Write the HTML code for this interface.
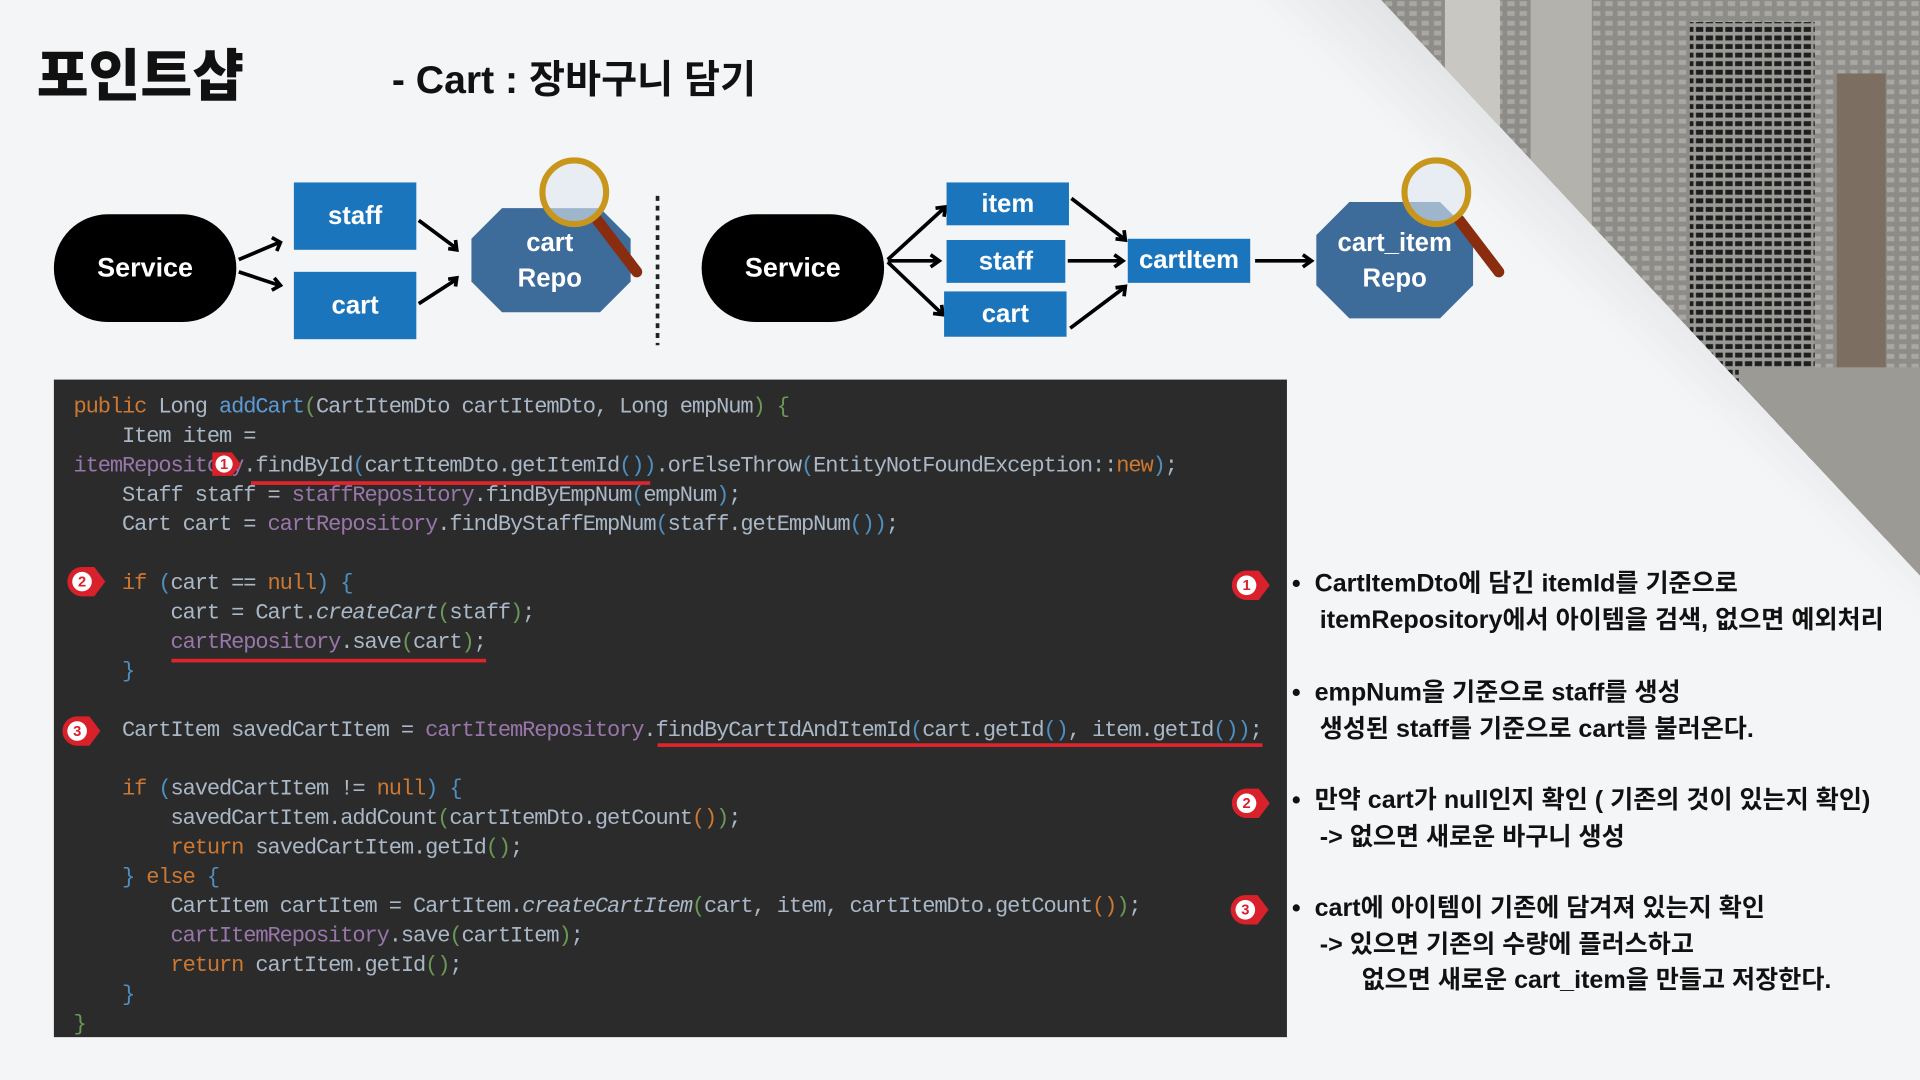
<!DOCTYPE html>
<html><head><meta charset="utf-8"><style>
html,body{margin:0;padding:0;width:1920px;height:1080px;overflow:hidden;background:#f3f5f7}
#s{position:absolute;left:0;top:0;width:1568px;height:882px;transform:scale(1.22449);transform-origin:0 0;font-family:"Liberation Sans","Noto Sans CJK KR",sans-serif}
.abs{position:absolute}
.code{position:absolute;left:44px;top:310px;width:1007px;height:537px;background:#2b2b2b}
.code pre{margin:0;position:absolute;left:16px;top:11px;font-family:"Liberation Mono",monospace;font-size:18px;line-height:24px;color:#a9b7c6;letter-spacing:-0.9px}
.k{color:#cc7832}.f{color:#9876aa}.m{color:#5b9bd5}.p{color:#4e8fbf}.g{color:#6a9955}.i{font-style:italic}
.rt{position:absolute;left:1055px;font-size:20.5px;font-weight:bold;color:#111;line-height:29.5px;white-space:pre}
.box{position:absolute;background:#1b75bc;color:#fff;font-weight:bold;font-size:21px;display:flex;align-items:center;justify-content:center}
.svc{position:absolute;background:#000;color:#fff;border-radius:45px;font-weight:bold;font-size:22px;display:flex;align-items:center;justify-content:center}
.ul{position:absolute;height:3px;background:#e0242c}
</style></head><body><div id="s">
<svg class="abs" style="left:0;top:0" width="1568" height="882">
<defs>
<linearGradient id="sh" x1="1020" y1="0" x2="1250" y2="-250" gradientUnits="userSpaceOnUse">
<stop offset="0" stop-color="#f3f5f7"/><stop offset="1" stop-color="#a4a6a5"/></linearGradient>
<pattern id="bld" width="10" height="8" patternUnits="userSpaceOnUse"><rect width="10" height="8" fill="#8d8c88"/><rect x="1" y="1" width="6" height="4" fill="#a9a8a3"/></pattern>
<pattern id="win" width="8" height="7" patternUnits="userSpaceOnUse"><rect width="8" height="7" fill="#9a9a96"/><rect x="1" y="1" width="6" height="4" fill="#1e1e1e"/></pattern>
<clipPath id="cp"><polygon points="1128,0 1568,0 1568,470"/></clipPath>
</defs>
<polygon points="1020,0 1568,0 1568,545" fill="url(#sh)"/>
<g clip-path="url(#cp)">
<rect x="1128" y="0" width="440" height="470" fill="url(#bld)"/>
<rect x="1180" y="0" width="45" height="130" fill="#c9c7c2"/>
<rect x="1250" y="0" width="50" height="200" fill="#b4b2ad"/>
<rect x="1380" y="18" width="102" height="400" fill="url(#win)"/>
<rect x="1500" y="60" width="40" height="400" fill="#7c6f62"/>
<rect x="1420" y="300" width="150" height="200" fill="#9b9a95"/>
</g>
<line x1="537" y1="160" x2="537" y2="282" stroke="#222" stroke-width="3" stroke-dasharray="4,4"/>
<g stroke="#000" stroke-width="3" fill="none">
<path d="M195 212 L228 198 M222 194 L229 198 L226 205"/><path d="M195 222 L228 233 M222 237 L229 233 L224 227"/>
<path d="M342 180 L373 203 M366 203 L373 204 L372 196"/><path d="M342 248 L373 228 M366 228 L373 227 L372 234"/>
<path d="M725 212 L771 170 M764 170 L772 169 L771 177"/><path d="M725 213 L766 213 M760 208 L767 213 L760 218"/><path d="M725 214 L769 256 M762 256 L770 257 L769 249"/>
<path d="M875 162 L918 195 M911 195 L919 196 L918 188"/><path d="M872 213 L916 213 M910 208 L917 213 L910 218"/><path d="M874 268 L918 235 M911 235 L919 234 L918 242"/>
<path d="M1025 213 L1070 213 M1064 208 L1071 213 L1064 218"/>
</g>
<polygon points="410,170 490,170 515,195 515,230 490,255 410,255 385,230 385,195" fill="#3d6b9a"/>
<polygon points="1102,165 1176,165 1203,192 1203,233 1176,260 1102,260 1075,233 1075,192" fill="#3d6b9a"/>
<g><line x1="488" y1="180" x2="520" y2="222" stroke="#8a2d0e" stroke-width="9" stroke-linecap="round"/><circle cx="469" cy="157" r="26" fill="#dfe8ee" fill-opacity="0.6" stroke="#c9961c" stroke-width="5"/></g>
<g><line x1="1192" y1="180" x2="1224" y2="222" stroke="#8a2d0e" stroke-width="9" stroke-linecap="round"/><circle cx="1173" cy="157" r="26" fill="#dfe8ee" fill-opacity="0.6" stroke="#c9961c" stroke-width="5"/></g>
<text x="449" y="205" fill="#fff" font-size="21" font-weight="bold" text-anchor="middle" font-family="Liberation Sans">cart</text>
<text x="449" y="234" fill="#fff" font-size="21" font-weight="bold" text-anchor="middle" font-family="Liberation Sans">Repo</text>
<text x="1139" y="205" fill="#fff" font-size="21" font-weight="bold" text-anchor="middle" font-family="Liberation Sans">cart_item</text>
<text x="1139" y="234" fill="#fff" font-size="21" font-weight="bold" text-anchor="middle" font-family="Liberation Sans">Repo</text>
</svg>
<div class="abs" style="left:30px;top:26px;font-size:46px;font-weight:900;color:#111">포인트샵</div>
<div class="abs" style="left:320px;top:40px;font-size:32px;font-weight:bold;color:#111">- Cart : 장바구니 담기</div>
<div class="svc" style="left:44px;top:175px;width:149px;height:88px">Service</div>
<div class="svc" style="left:573px;top:175px;width:149px;height:88px">Service</div>
<div class="box" style="left:240px;top:149px;width:100px;height:55px">staff</div>
<div class="box" style="left:240px;top:222px;width:100px;height:55px">cart</div>
<div class="box" style="left:773px;top:149px;width:100px;height:35px">item</div>
<div class="box" style="left:773px;top:196px;width:97px;height:35px">staff</div>
<div class="box" style="left:771px;top:238px;width:100px;height:37px">cart</div>
<div class="box" style="left:921px;top:195px;width:100px;height:36px">cartItem</div>
<div class="code"><pre><span class="k">public</span> Long <span class="m">addCart</span><span class="g">(</span>CartItemDto cartItemDto, Long empNum<span class="g">)</span> <span class="g">{</span>
    Item item =
<span class="f">itemRepository</span>.findById<span class="p">(</span>cartItemDto.getItemId<span class="p">())</span>.orElseThrow<span class="p">(</span>EntityNotFoundException::<span class="k">new</span><span class="p">)</span>;
    Staff staff = <span class="f">staffRepository</span>.findByEmpNum<span class="p">(</span>empNum<span class="p">)</span>;
    Cart cart = <span class="f">cartRepository</span>.findByStaffEmpNum<span class="p">(</span>staff.getEmpNum<span class="p">())</span>;

    <span class="k">if</span> <span class="p">(</span>cart == <span class="k">null</span><span class="p">)</span> <span class="p">{</span>
        cart = Cart.<span class="i">createCart</span><span class="g">(</span>staff<span class="g">)</span>;
        <span class="f">cartRepository</span>.save<span class="g">(</span>cart<span class="g">)</span>;
    <span class="p">}</span>

    CartItem savedCartItem = <span class="f">cartItemRepository</span>.findByCartIdAndItemId<span class="p">(</span>cart.getId<span class="p">()</span>, item.getId<span class="p">())</span>;

    <span class="k">if</span> <span class="p">(</span>savedCartItem != <span class="k">null</span><span class="p">)</span> <span class="p">{</span>
        savedCartItem.addCount<span class="g">(</span>cartItemDto.getCount<span class="k">()</span><span class="g">)</span>;
        <span class="k">return</span> savedCartItem.getId<span class="g">()</span>;
    <span class="p">}</span> <span class="k">else</span> <span class="p">{</span>
        CartItem cartItem = CartItem.<span class="i">createCartItem</span><span class="g">(</span>cart, item, cartItemDto.getCount<span class="k">()</span><span class="g">)</span>;
        <span class="f">cartItemRepository</span>.save<span class="g">(</span>cartItem<span class="g">)</span>;
        <span class="k">return</span> cartItem.getId<span class="g">()</span>;
    <span class="p">}</span>
<span class="g">}</span></pre></div>
<div class="ul" style="left:205px;top:393px;width:326px"></div>
<div class="ul" style="left:140px;top:538px;width:257px"></div>
<div class="ul" style="left:537px;top:607px;width:494px"></div>
<svg class="abs" style="left:0;top:0;pointer-events:none" width="1568" height="882">
<g font-family="Liberation Sans" font-size="12" font-weight="bold" text-anchor="middle">
<g transform="translate(183,379)"><path d="M-12,-12 L8,-12 L17,0 L8,12 L-12,12Z" fill="#d8212a" transform="scale(0.8)"/><circle r="9" fill="#d8212a"/><circle r="7" fill="#fff"/><text y="4" fill="#d8212a">1</text></g>
<g transform="translate(67,475)"><path d="M0,-12 L10,-12 L19,0 L10,12 L0,12Z" fill="#d8212a"/><circle r="12" fill="#d8212a"/><circle r="8" fill="#fff"/><text y="4" fill="#d8212a">2</text></g>
<g transform="translate(63,597)"><path d="M0,-12 L10,-12 L19,0 L10,12 L0,12Z" fill="#d8212a"/><circle r="12" fill="#d8212a"/><circle r="8" fill="#fff"/><text y="4" fill="#d8212a">3</text></g>
<g transform="translate(1018,478)"><path d="M0,-12 L10,-12 L19,0 L10,12 L0,12Z" fill="#d8212a"/><circle r="12" fill="#d8212a"/><circle r="8" fill="#fff"/><text y="4" fill="#d8212a">1</text></g>
<g transform="translate(1018,656)"><path d="M0,-12 L10,-12 L19,0 L10,12 L0,12Z" fill="#d8212a"/><circle r="12" fill="#d8212a"/><circle r="8" fill="#fff"/><text y="4" fill="#d8212a">2</text></g>
<g transform="translate(1017,743)"><path d="M0,-12 L10,-12 L19,0 L10,12 L0,12Z" fill="#d8212a"/><circle r="12" fill="#d8212a"/><circle r="8" fill="#fff"/><text y="4" fill="#d8212a">3</text></g>
</g></svg>
<div class="rt" style="top:462px">•  CartItemDto에 담긴 itemId를 기준으로
    itemRepository에서 아이템을 검색, 없으면 예외처리</div>
<div class="rt" style="top:551px">•  empNum을 기준으로 staff를 생성
    생성된 staff를 기준으로 cart를 불러온다.</div>
<div class="rt" style="top:639px">•  만약 cart가 null인지 확인 ( 기존의 것이 있는지 확인)
    -&gt; 없으면 새로운 바구니 생성</div>
<div class="rt" style="top:727px">•  cart에 아이템이 기존에 담겨져 있는지 확인
    -&gt; 있으면 기존의 수량에 플러스하고
          없으면 새로운 cart_item을 만들고 저장한다.</div>
</div></body></html>
